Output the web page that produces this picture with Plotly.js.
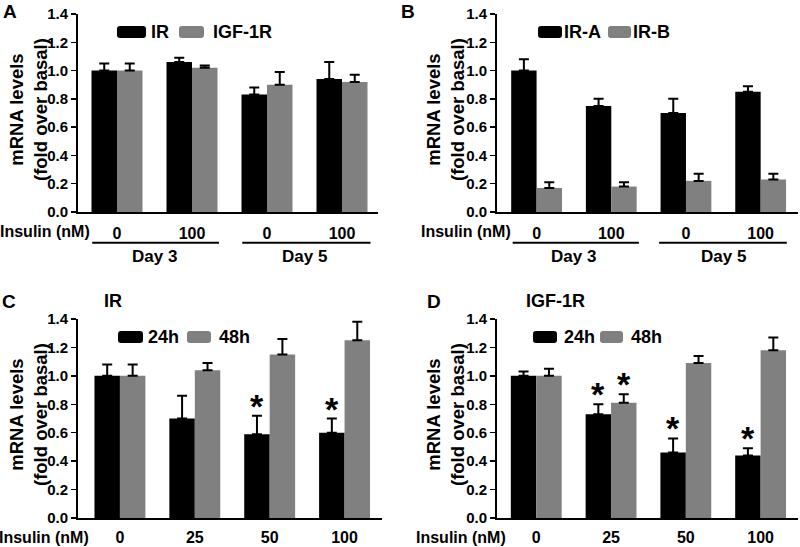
<!DOCTYPE html>
<html><head><meta charset="utf-8">
<script src="https://cdn.plot.ly/plotly-3.0.1.min.js"></script>
<style>html,body{margin:0;padding:0;background:#fff;}</style>
</head><body><div id="chart" style="width:800px;height:547px;"></div>
<script>
// ---------- data ----------
const groupIdx = [0, 1, 2, 3];
const doseTopLabels = ['0', '100', '0', '100'];
const dayLabels = ['Day 3', 'Day 5'];
const doseBottomLabels = ['0', '25', '50', '100'];

// Panel A
const aIR = [1.00, 1.06, 0.83, 0.94];
const aIRErr = [0.05, 0.03, 0.05, 0.12];
const aIGF = [1.00, 1.02, 0.90, 0.92];
const aIGFErr = [0.05, 0.015, 0.09, 0.05];
// Panel B
const bIRA = [1.00, 0.75, 0.70, 0.85];
const bIRAErr = [0.08, 0.05, 0.10, 0.04];
const bIRB = [0.17, 0.18, 0.22, 0.23];
const bIRBErr = [0.04, 0.03, 0.05, 0.04];
// Panel C (IR)
const c24 = [1.00, 0.70, 0.59, 0.60];
const c24Err = [0.08, 0.16, 0.13, 0.10];
const c48 = [1.00, 1.04, 1.15, 1.25];
const c48Err = [0.08, 0.05, 0.11, 0.13];
const c24Sig = [false, false, true, true];
const c48Sig = [false, false, false, false];
// Panel D (IGF-1R)
const d24 = [1.00, 0.73, 0.46, 0.44];
const d24Err = [0.03, 0.07, 0.10, 0.05];
const d48 = [1.00, 0.81, 1.09, 1.18];
const d48Err = [0.05, 0.06, 0.05, 0.09];
const d24Sig = [false, true, true, true];
const d48Sig = [false, true, false, false];

// ---------- helpers ----------
const W = 800, H = 547;
const BLACK = '#000000', GREY = '#808080';
const FONT = 'Liberation Sans, Arial, Helvetica, sans-serif';
const px = x => x / W;
const py = y => 1 - y / H;
const BAR_HALF = 0.17;

function barTrace(name, y, err, color, xa, ya) {
  return {
    type: 'bar', name: name, x: groupIdx, y: y,
    xaxis: xa, yaxis: ya, showlegend: false,
    marker: {color: color, line: {width: 0}},
    error_y: {type: 'data', symmetric: false, array: err,
              arrayminus: err.map(() => 0), color: '#000', thickness: 2, width: 5},
    hoverinfo: 'skip'
  };
}

const data = [
  barTrace('IR', aIR, aIRErr, BLACK, 'x', 'y'),
  barTrace('IGF-1R', aIGF, aIGFErr, GREY, 'x', 'y'),
  barTrace('IR-A', bIRA, bIRAErr, BLACK, 'x2', 'y2'),
  barTrace('IR-B', bIRB, bIRBErr, GREY, 'x2', 'y2'),
  barTrace('24h', c24, c24Err, BLACK, 'x3', 'y3'),
  barTrace('48h', c48, c48Err, GREY, 'x3', 'y3'),
  barTrace('24h', d24, d24Err, BLACK, 'x4', 'y4'),
  barTrace('48h', d48, d48Err, GREY, 'x4', 'y4')
];

function xAxis(dom, range, labels, standoff) {
  return {
    domain: [px(dom[0]), px(dom[1])], range: range, fixedrange: true,
    showline: true, linecolor: '#000', linewidth: 2, showgrid: false, zeroline: false,
    ticks: '', tickvals: groupIdx, ticktext: labels, ticklabelstandoff: standoff,
    tickfont: {size: 16, color: '#000', family: FONT, weight: 'bold'}
  };
}
function yAxis(dom, anchor) {
  return {
    domain: [py(dom[1]), py(dom[0])], range: [0, 1.4], dtick: 0.2, tick0: 0,
    tickformat: '.1f', anchor: anchor, fixedrange: true,
    showline: true, linecolor: '#000', linewidth: 2, showgrid: false, zeroline: false,
    ticks: 'outside', ticklen: 5, tickwidth: 1.5, tickcolor: '#000',
    tickfont: {size: 15, color: '#000', family: FONT, weight: 'bold'}
  };
}

const annotations = [];
const shapes = [];
function txt(text, x, y, size, xanchor, extra) {
  annotations.push(Object.assign({
    text: text, x: px(x), y: py(y), xref: 'paper', yref: 'paper',
    xanchor: xanchor || 'center', yanchor: 'middle', showarrow: false,
    font: {size: size, color: '#000', family: FONT, weight: 'bold'}
  }, extra || {}));
}
function roundRect(w, h, r) {
  const a = w / 2, b = h / 2;
  return `M${-a + r},${-b} L${a - r},${-b} Q${a},${-b} ${a},${-b + r} L${a},${b - r} Q${a},${b} ${a - r},${b} ` +
         `L${-a + r},${b} Q${-a},${b} ${-a},${b - r} L${-a},${-b + r} Q${-a},${-b} ${-a + r},${-b} Z`;
}
function swatch(x0, x1, yc, color) {
  shapes.push({
    type: 'path', xref: 'paper', yref: 'paper', xsizemode: 'pixel', ysizemode: 'pixel',
    xanchor: px((x0 + x1) / 2), yanchor: py(yc), path: roundRect(x1 - x0, 12, 3),
    fillcolor: color, line: {width: 0}
  });
}
function legendItem(x0, x1, yc, color, label, tx) {
  swatch(x0, x1, yc, color);
  txt(label, tx, yc, 18, 'left');
}
function yTitle(x, y) {
  txt('mRNA levels<br>(fold over basal)', x, y, 18.5, 'center', {textangle: -90});
}
function groupLines(xa, spans, yPix) {
  spans.forEach(s => shapes.push({
    type: 'line', xref: xa, yref: 'paper', x0: s[0], x1: s[1], y0: py(yPix), y1: py(yPix),
    line: {color: '#000', width: 2}
  }));
}
function dayText(xa, yPix) {
  dayLabels.forEach((d, k) => annotations.push({
    text: d, x: 2 * k + 0.5, xref: xa, y: py(yPix), yref: 'paper', showarrow: false,
    xanchor: 'center', yanchor: 'middle',
    font: {size: 17, color: '#000', family: FONT, weight: 'bold'}
  }));
}
function stars(xa, ya, vals, errs, sig, offset) {
  vals.forEach((v, i) => {
    if (!sig[i]) return;
    annotations.push({
      text: '*', x: groupIdx[i] + offset, xref: xa, y: v + errs[i], yref: ya,
      showarrow: false, xanchor: 'center', yanchor: 'middle', yshift: 10,
      font: {size: 34, color: '#000', family: FONT, weight: 'bold'}
    });
  });
}

// Panel A
txt('A', 10, 11, 19);
yTitle(28, 110);
legendItem(117, 146, 32, BLACK, 'IR', 149);
legendItem(179, 204, 32, GREY, 'IGF-1R', 211);
txt('Insulin (nM)', 92, 231, 16, 'right');
groupLines('x', [[-0.33, 1.36], [1.67, 3.38]], 242.7);
dayText('x', 256);
// Panel B
txt('B', 408, 11, 19);
yTitle(445, 110);
legendItem(538, 562, 32, BLACK, 'IR-A', 562);
legendItem(608, 631, 32, GREY, 'IR-B', 631);
txt('Insulin (nM)', 513, 231, 16, 'right');
groupLines('x2', [[-0.32, 1.37], [1.64, 3.35]], 242.7);
dayText('x2', 256);
// Panel C
txt('C', 9, 301, 19);
txt('IR', 112.5, 301, 18);
yTitle(28, 415);
legendItem(118, 143, 337, BLACK, '24h', 146);
legendItem(187, 211, 337, GREY, '48h', 217);
txt('Insulin (nM)', 91, 537, 16, 'right');
stars('x3', 'y3', c24, c24Err, c24Sig, -BAR_HALF);
stars('x3', 'y3', c48, c48Err, c48Sig, BAR_HALF);
// Panel D
txt('D', 434, 301, 19);
txt('IGF-1R', 555, 301, 18);
yTitle(445, 415);
legendItem(533, 557, 337, BLACK, '24h', 562);
legendItem(600, 623, 337, GREY, '48h', 629);
txt('Insulin (nM)', 508, 537, 16, 'right');
stars('x4', 'y4', d24, d24Err, d24Sig, -BAR_HALF);
stars('x4', 'y4', d48, d48Err, d48Sig, BAR_HALF);

const layout = {
  width: W, height: H, margin: {l: 0, r: 0, t: 0, b: 0},
  paper_bgcolor: '#fff', plot_bgcolor: '#fff',
  font: {family: FONT, color: '#000', weight: 'bold'},
  barmode: 'group', bargap: 0.32, bargroupgap: 0,
  showlegend: false,
  xaxis: Object.assign(xAxis([78, 378], [-0.52, 3.48], doseTopLabels, 6), {anchor: 'y'}),
  yaxis: yAxis([14, 212], 'x'),
  xaxis2: Object.assign(xAxis([497, 798], [-0.53, 3.5], doseTopLabels, 6), {anchor: 'y2'}),
  yaxis2: yAxis([14, 212], 'x2'),
  xaxis3: Object.assign(xAxis([78, 382], [-0.56, 3.5], doseBottomLabels, 4), {anchor: 'y3'}),
  yaxis3: yAxis([319, 518], 'x3'),
  xaxis4: Object.assign(xAxis([497, 798], [-0.525, 3.5], doseBottomLabels, 4), {anchor: 'y4'}),
  yaxis4: yAxis([319, 518], 'x4'),
  annotations: annotations, shapes: shapes
};

Plotly.newPlot('chart', data, layout, {displayModeBar: false, staticPlot: true});
</script>
</body></html>
